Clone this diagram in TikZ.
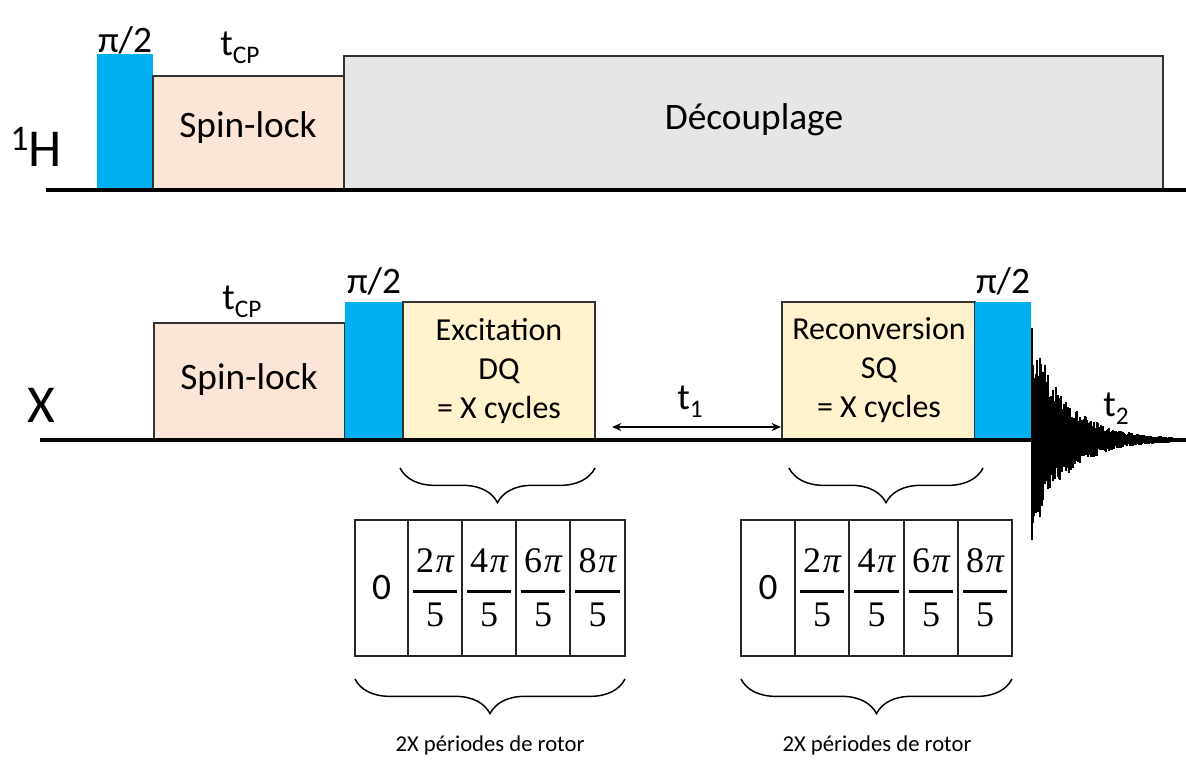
\documentclass[tikz,border=0pt]{standalone}
\usepackage{fontspec}
\setmainfont{Carlito}
\newfontfamily\serifm{Liberation Serif}
\usetikzlibrary{fit,decorations.pathreplacing,arrows.meta}
\definecolor{pulsecyan}{HTML}{00B0F0}
\definecolor{peach}{HTML}{FBE5D6}
\definecolor{lgray}{HTML}{E7E6E6}
\definecolor{lyellow}{HTML}{FFF2CC}
\newcommand\tsubx[1]{t\raisebox{-6pt}{\fontsize{19}{19}\selectfont #1}}
\newcommand\pfrac[1]{{\serifm\fontsize{27}{28}\selectfont\vbox{\halign{\hfil##\hfil\cr \kern2.6pt#1\kern1.2pt{\itshape π}\kern2.6pt\cr \noalign{\kern13pt\hrule height 2.2pt\kern7.5pt} 5\cr}}}}
\begin{document}
\begin{tikzpicture}[x=0.75pt,y=-0.75pt,
  box/.style={draw=black!80, line width=0.8pt, inner sep=0pt},
  pulse/.style={fill=pulsecyan, inner sep=0pt},
  cell/.style={draw=black!85, line width=0.8pt, inner sep=0pt},
  celltxt/.style={font=\fontsize{28}{30}\selectfont, inner sep=0pt},
  bigtxt/.style={font=\fontsize{28}{34}\selectfont, inner sep=0pt},
  midtxt/.style={font=\fontsize{24}{29.5}\selectfont, align=center, inner sep=0pt},
  axis/.style={line width=3pt},
  bracestyle/.style={decorate, decoration={brace, amplitude=26pt}, line width=1.1pt},
  smalltxt/.style={font=\fontsize{17}{20}\selectfont, inner sep=0pt}]
\useasboundingbox (0,0) rectangle (1186,760);

% ---------- 1H channel ----------
\node[pulse, fit={(97,54)(153,189)}] (hp) {};
\node[box, fill=peach, fit={(153,76)(344,189)}] (hsl) {};
\node[box, fill=lgray, fit={(344,56)(1163,189)}] (hdec) {};
\node[bigtxt] (hslt) at (248,128) {Spin-lock};
\node[bigtxt] (hdect) at (754,120) {Découplage};
\coordinate (hl) at (46,190);
\coordinate (hr) at (1186,190);
\draw[axis] (hl) -- (hr);
\node[bigtxt] (hpl) at (125,40) {π/2};
\node[bigtxt] (htcp) at (240,48) {\tsubx{CP}};
\node[inner sep=0pt] (hlab) at (36,147) {\fontsize{27}{27}\selectfont\raisebox{12pt}{1}\fontsize{40}{40}\selectfont H};

% ---------- X channel ----------
\node[box, fill=peach, fit={(154,323)(345,439)}] (xsl) {};
\node[pulse, fit={(345,302)(403,439)}] (xp1) {};
\node[box, fill=lyellow, fit={(403,302)(595,439)}] (exc) {};
\node[box, fill=lyellow, fit={(782,302)(975,439)}] (rec) {};
\node[pulse, fit={(975,302)(1031,439)}] (xp2) {};
\node[bigtxt] (xslt) at (249,380) {Spin-lock};
\node[midtxt] (exct) at (499,371) {Excitation\\DQ\\= X cycles};
\node[midtxt] (rect) at (879,370) {Reconversion\\SQ\\= X cycles};

% FID
\pgfmathsetseed{11}
\foreach \i in {0,...,140}{
  \pgfmathsetmacro\amp{112*exp(-\i/34)*(0.5+0.5*rnd)+1.2}
  \pgfmathsetmacro\amn{100*exp(-\i/34)*(0.5+0.5*rnd)+1.2}
  \draw[line width=1.1pt] (1032+\i,440-\amp) -- (1032+\i,440+\amn);
}
\draw[line width=1.2pt] (1032,328) -- (1032,540);

\coordinate (xl) at (40,440);
\coordinate (xr) at (1186,440);
\draw[axis] (xl) -- (xr);

\node[inner sep=0pt, font=\fontsize{40}{40}\selectfont] (xlab) at (41,405) {X};
\node[bigtxt] (xtcp) at (242,302) {\tsubx{CP}};
\node[bigtxt] (xpl1) at (374,281) {π/2};
\node[bigtxt] (xpl2) at (1003,281) {π/2};

\coordinate (t1a) at (612,427);
\coordinate (t1b) at (781,427);
\draw[{Stealth[length=7pt,width=6pt]}-{Stealth[length=7pt,width=6pt]}, line width=1pt] (t1a) -- (t1b);
\node[bigtxt] (t1) at (690,402) {\tsubx{1}};
\node[bigtxt] (t2) at (1116,409) {\tsubx{2}};

% ---------- phase tables ----------
\foreach \n/\xa/\xb in {a1/355/408,a2/408/462,a3/462/516,a4/516/570,a5/570/625,
                        b1/741/795,b2/795/849,b3/849/904,b4/904/958,b5/958/1012}{
  \node[cell, fit={(\xa,520)(\xb,656)}] (\n) {};
}
\node[celltxt] (a1t) at (a1.center) {0};
\node[celltxt] (a2t) at (a2.center) {\pfrac{2}};
\node[celltxt] (a3t) at (a3.center) {\pfrac{4}};
\node[celltxt] (a4t) at (a4.center) {\pfrac{6}};
\node[celltxt] (a5t) at (a5.center) {\pfrac{8}};
\node[celltxt] (b1t) at (b1.center) {0};
\node[celltxt] (b2t) at (b2.center) {\pfrac{2}};
\node[celltxt] (b3t) at (b3.center) {\pfrac{4}};
\node[celltxt] (b4t) at (b4.center) {\pfrac{6}};
\node[celltxt] (b5t) at (b5.center) {\pfrac{8}};

% ---------- braces ----------
\coordinate (ba1) at (595,468); \coordinate (ba2) at (400,468);
\draw[bracestyle] (ba1) -- (ba2);
\coordinate (bb1) at (983,468); \coordinate (bb2) at (789,468);
\draw[bracestyle] (bb1) -- (bb2);
\coordinate (bc1) at (625,679); \coordinate (bc2) at (355,679);
\draw[bracestyle] (bc1) -- (bc2);
\coordinate (bd1) at (1012,679); \coordinate (bd2) at (741,679);
\draw[bracestyle] (bd1) -- (bd2);

\node[smalltxt] (pa) at (490,745) {2X périodes de rotor};
\node[smalltxt] (pb) at (877,745) {2X périodes de rotor};
\end{tikzpicture}
\end{document}
